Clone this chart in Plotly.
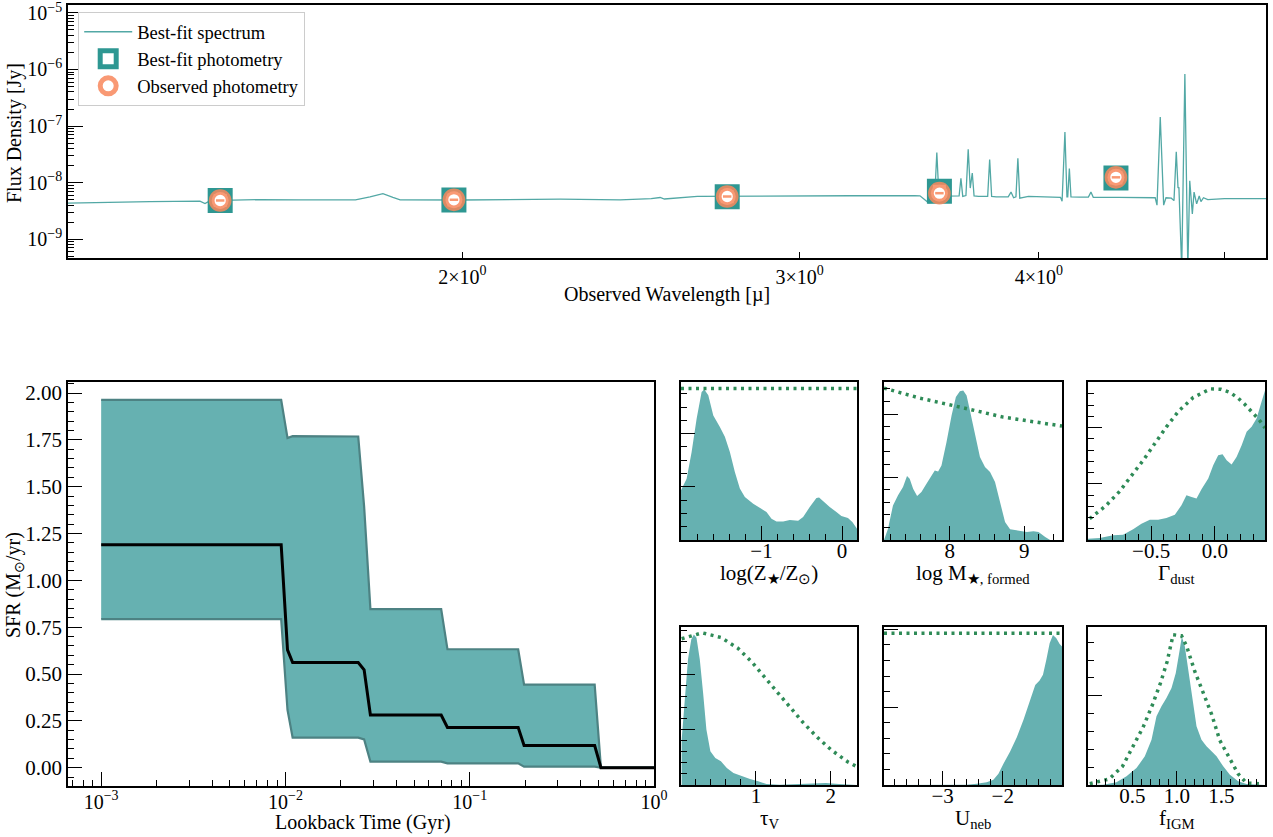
import plotly.graph_objects as go

FONT = "Liberation Serif"
W, H = 1273, 837

# ---------------- top panel: spectrum + photometry ----------------
spec_wave = [1.245, 1.279, 1.374, 1.459, 1.468, 1.477, 1.569, 1.646, 1.759, 1.79, 1.818, 1.84, 1.856,
             2.0, 2.145, 2.25, 2.418, 2.51, 2.537, 2.55, 2.653, 2.861, 3.187, 3.445, 3.467, 3.503,
             3.528, 3.538, 3.547, 3.56, 3.60, 3.634, 3.642, 3.650, 3.664, 3.674, 3.683, 3.692, 3.700,
             3.72, 3.761, 3.770, 3.779, 3.80, 3.855, 3.868, 3.88, 3.891, 3.900, 3.909, 3.95, 4.05,
             4.105, 4.113, 4.127, 4.137, 4.141, 4.149, 4.157, 4.2, 4.245, 4.258, 4.27, 4.40, 4.55,
             4.60, 4.61, 4.628, 4.647, 4.66, 4.69, 4.705, 4.718, 4.728, 4.733, 4.749, 4.767, 4.784,
             4.795, 4.81, 4.82, 4.835, 4.85, 4.86, 4.875, 4.90, 5.0, 5.255]
spec_flux = [4.35e-9, 4.45e-9, 4.6e-9, 4.7e-9, 4.25e-9, 4.8e-9, 5.0e-9, 4.95e-9, 4.97e-9, 5.6e-9, 6.4e-9, 5.5e-9, 4.97e-9,
             4.93e-9, 5.0e-9, 5.1e-9, 4.97e-9, 5.2e-9, 5.45e-9, 5.13e-9, 5.7e-9, 5.7e-9, 5.85e-9, 5.9e-9, 5.85e-9, 4.4e-9,
             4.45e-9, 3.4e-8, 5.7e-9, 5.75e-9, 5.8e-9, 5.8e-9, 1.19e-8, 5.7e-9, 5.9e-9, 3.9e-8, 8e-9, 1.48e-8, 5.8e-9,
             5.7e-9, 5.7e-9, 2.57e-8, 5.7e-9, 5.6e-9, 5.6e-9, 6.8e-9, 5.4e-9, 5.6e-9, 2.7e-8, 5.3e-9, 5.7e-9, 5.6e-9,
             5.5e-9, 4.7e-9, 7.85e-8, 5.6e-9, 5.6e-9, 1.78e-8, 5.6e-9, 5.55e-9, 5.55e-9, 6.8e-9, 5.5e-9, 5.5e-9, 5.4e-9,
             5.4e-9, 4.0e-9, 1.45e-7, 4.0e-9, 5.4e-9, 5.3e-9, 4.8e-9, 3.5e-8, 8e-9, 8.3e-9, 3e-10, 8.3e-7, 3e-10,
             1.08e-8, 2.8e-9, 6.8e-9, 4.2e-9, 5.8e-9, 4.6e-9, 5.4e-9, 5.0e-9, 5.2e-9, 5.2e-9]
phot_wave = [1.495, 1.98, 2.75, 3.549, 4.388]
phot_model = [4.83e-9, 4.95e-9, 5.6e-9, 7.05e-9, 1.21e-8]
phot_obs = [4.83e-9, 4.97e-9, 5.68e-9, 6.5e-9, 1.24e-8]

# ---------------- star formation history ----------------
sfr_age = [0.001, 0.00948, 0.01026, 0.01094, 0.02483, 0.02673, 0.02891, 0.0700, 0.0757,
           0.1832, 0.1972, 0.4764, 0.5152, 1.0]
sfr_upper = [1.964, 1.964, 1.760, 1.770, 1.768, 1.394, 0.846, 0.846, 0.632, 0.632, 0.443, 0.443, 0.0, 0.0]
sfr_median = [1.19, 1.19, 0.629, 0.561, 0.561, 0.522, 0.281, 0.281, 0.215, 0.215, 0.118, 0.118, 0.0, 0.0]
sfr_lower = [0.793, 0.793, 0.308, 0.160, 0.160, 0.151, 0.032, 0.032, 0.023, 0.023, 0.005, 0.005, 0.0, 0.0]

# ---------------- posteriors / priors ----------------
zmet_x = [-2.0, -1.93, -1.868, -1.806, -1.744, -1.711, -1.661, -1.599, -1.517, -1.455, -1.393, -1.331,
          -1.269, -1.207, -1.103, -1.0, -0.938, -0.876, -0.814, -0.731, -0.649, -0.545, -0.483, -0.401,
          -0.318, -0.285, -0.236, -0.153, -0.070, -0.008, 0.074, 0.128, 0.186]
zmet_pdf = [0.934, 1.15, 1.655, 2.28, 2.78, 2.83, 2.72, 2.34, 2.125, 1.94, 1.655, 1.28,
            0.966, 0.81, 0.683, 0.59, 0.527, 0.40, 0.35, 0.35, 0.376, 0.364, 0.433, 0.62,
            0.79, 0.80, 0.727, 0.62, 0.527, 0.451, 0.414, 0.339, 0.213]
zmet_prior_x = [-2.0, 0.186]
zmet_prior = [2.85, 2.85]

mass_x = [7.113, 7.167, 7.234, 7.302, 7.369, 7.423, 7.459, 7.505, 7.559, 7.617, 7.685, 7.752, 7.797,
          7.842, 7.887, 7.955, 8.023, 8.081, 8.135, 8.18, 8.225, 8.27, 8.338, 8.405, 8.473, 8.541,
          8.608, 8.676, 8.743, 8.811, 8.901, 9.036, 9.126, 9.194, 9.284, 9.35, 9.51]
mass_pdf = [0.0, 0.18, 0.55, 0.71, 0.84, 1.016, 0.974, 0.815, 0.70, 0.762, 0.894, 1.026, 1.106,
            1.09, 1.185, 1.556, 1.979, 2.27, 2.365, 2.376, 2.296, 2.058, 1.66, 1.317, 1.159, 1.079,
            0.92, 0.603, 0.286, 0.169, 0.148, 0.127, 0.138, 0.127, 0.048, 0.0, 0.0]
mass_prior_x = [7.113, 7.595, 8.18, 8.72, 9.51]
mass_prior = [2.413, 2.254, 2.10, 1.952, 1.81]

gdust_x = [-0.995, -0.903, -0.798, -0.72, -0.641, -0.576, -0.51, -0.445, -0.38, -0.314, -0.262,
           -0.223, -0.183, -0.144, -0.105, -0.052, -0.013, 0.026, 0.06, 0.092, 0.131, 0.17, 0.21,
           0.249, 0.288, 0.327, 0.366, 0.393]
gdust_pdf = [0.024, 0.036, 0.083, 0.095, 0.19, 0.29, 0.362, 0.362, 0.39, 0.451, 0.617,
             0.795, 0.766, 0.736, 0.902, 1.092, 1.33, 1.507, 1.525, 1.418, 1.341, 1.478, 1.685,
             1.923, 2.012, 2.16, 2.457, 2.66]
gdust_prior_x = [-0.982, -0.859, -0.751, -0.652, -0.560, -0.471, -0.380, -0.285, -0.170, -0.034,
                 0.045, 0.120, 0.183, 0.236, 0.296, 0.346, 0.393]
gdust_prior = [0.38, 0.60, 0.855, 1.139, 1.424, 1.715, 2.012, 2.291, 2.534, 2.688,
               2.682, 2.623, 2.522, 2.409, 2.273, 2.142, 1.994]

tauv_x = [0.009, 0.048, 0.093, 0.137, 0.172, 0.207, 0.251, 0.295, 0.339, 0.392, 0.458, 0.533, 0.612,
          0.70, 0.81, 0.921, 1.031, 1.141, 1.317, 1.537, 1.758, 1.934, 2.11, 2.35]
tauv_pdf = [0.82, 1.486, 2.27, 2.634, 2.725, 2.665, 2.27, 1.668, 1.003, 0.61, 0.489, 0.429, 0.308,
            0.218, 0.157, 0.109, 0.066, 0.018, 0.006, 0.018, 0.024, 0.036, 0.018, 0.0]
tauv_prior_x = [0.009, 0.282, 0.533, 0.758, 0.943, 1.119, 1.295, 1.458, 1.634, 1.824, 2.013, 2.229, 2.35]
tauv_prior = [2.647, 2.755, 2.671, 2.477, 2.230, 1.952, 1.674, 1.396, 1.124, 0.858, 0.628, 0.417, 0.33]

uneb_x = [-3.972, -2.6, -2.433, -2.267, -2.156, -2.072, -1.989, -1.878, -1.767, -1.656, -1.544,
          -1.461, -1.389, -1.333, -1.278, -1.222, -1.167, -1.111, -1.056, -1.017]
uneb_pdf = [0.0, 0.004, 0.017, 0.034, 0.068, 0.145, 0.274, 0.432, 0.615, 0.838, 1.094,
            1.286, 1.342, 1.415, 1.607, 1.82, 1.927, 1.885, 1.812, 1.778]
uneb_prior_x = [-3.972, -1.017]
uneb_prior = [1.949, 1.949]

figm_x = [0.001, 0.17, 0.32, 0.433, 0.545, 0.639, 0.714, 0.77, 0.826, 0.882, 0.939, 0.987, 1.025,
          1.055, 1.089, 1.126, 1.175, 1.22, 1.276, 1.332, 1.389, 1.445, 1.52, 1.595, 1.689, 1.782, 1.99]
figm_pdf = [0.0, 0.004, 0.03, 0.097, 0.19, 0.321, 0.507, 0.769, 0.881, 0.974, 1.086, 1.254, 1.478,
            1.664, 1.552, 1.291, 0.918, 0.657, 0.507, 0.433, 0.377, 0.321, 0.209, 0.116, 0.041, 0.011, 0.0]
figm_prior_x = [0.02, 0.238, 0.388, 0.508, 0.62, 0.725, 0.815, 0.89, 0.957, 1.051, 1.107, 1.201,
                1.295, 1.389, 1.482, 1.595, 1.689, 1.782, 1.97]
figm_prior = [0.015, 0.067, 0.209, 0.433, 0.649, 0.899, 1.142, 1.384, 1.683, 1.672, 1.56, 1.272,
              1.037, 0.795, 0.5, 0.284, 0.123, 0.022, 0.011]

# ---------------- styles ----------------
SPEC_COLOR = "#52a8a5"
SQUARE_COLOR = "#2e9792"
ORANGE = "rgba(248,135,92,0.85)"
FILL = "#66b1b1"
EDGE = "#4d8283"
PRIOR = "#2e8b57"


def hdom(a, b):
    return [a / W, b / W]


def vdom(top, bottom):
    return [1 - bottom / H, 1 - top / H]


def base_axis(fs):
    return dict(showline=True, linecolor="black", linewidth=1.5, mirror=True, automargin=False,
                ticks="inside", tickcolor="black", tickwidth=1.3, showgrid=False,
                zeroline=False, ticklabeloverflow="allow",
                tickfont=dict(family=FONT, size=fs, color="black"))


def sup(n):
    return "10<sup>" + ("−" + str(-n) if n < 0 else str(n)) + "</sup>"


annotations = []


def add_title(text, xc, yc, size=20, angle=0):
    annotations.append(dict(text=text, x=xc / W, y=1 - yc / H, xref="paper", yref="paper",
                            xanchor="center", yanchor="middle", showarrow=False, textangle=angle,
                            font=dict(family=FONT, size=size, color="black")))


fig = go.Figure()

# spectrum panel
fig.add_trace(go.Scatter(x=spec_wave, y=spec_flux, mode="lines", name="Best-fit spectrum",
                         line=dict(color=SPEC_COLOR, width=1.3), xaxis="x", yaxis="y"))
fig.add_trace(go.Scatter(x=phot_wave, y=phot_model, mode="markers", name="Best-fit photometry",
                         marker=dict(symbol="square", size=19, color="white",
                                     line=dict(color=SQUARE_COLOR, width=6)), xaxis="x", yaxis="y"))
fig.add_trace(go.Scatter(x=phot_wave, y=phot_obs, mode="markers", name="Observed photometry",
                         marker=dict(symbol="circle", size=17, color="white",
                                     line=dict(color=ORANGE, width=5.7)), xaxis="x", yaxis="y"))
fig.add_trace(go.Scatter(x=phot_wave, y=phot_obs, mode="markers", showlegend=False,
                         marker=dict(symbol="line-ew", size=6, line=dict(color=ORANGE, width=2.5)),
                         xaxis="x", yaxis="y"))

# SFH panel
fig.add_trace(go.Scatter(x=sfr_age, y=sfr_lower, mode="lines", showlegend=False,
                         line=dict(color=EDGE, width=2.2), xaxis="x2", yaxis="y2"))
fig.add_trace(go.Scatter(x=sfr_age, y=sfr_upper, mode="lines", showlegend=False, fill="tonexty",
                         fillcolor=FILL, line=dict(color=EDGE, width=2.2), xaxis="x2", yaxis="y2"))
fig.add_trace(go.Scatter(x=sfr_age, y=sfr_median, mode="lines", showlegend=False,
                         line=dict(color="black", width=3), xaxis="x2", yaxis="y2"))

layout = dict(width=W, height=H, autosize=False, margin=dict(l=0, r=0, t=0, b=0, autoexpand=False),
              paper_bgcolor="white", plot_bgcolor="white",
              font=dict(family=FONT, color="black"))

# top axes
ax = base_axis(20)
ax.update(type="log", domain=hdom(68, 1266), range=[0.0952, 0.7206], anchor="y",
          tickvals=[2, 3, 4, 5], ticktext=["2×10<sup>0</sup>", "3×10<sup>0</sup>", "4×10<sup>0</sup>", ""],
          ticklen=6)
layout["xaxis"] = ax
add_title("Observed Wavelength [µ]", 667, 294)
ay = base_axis(20)
ay.update(type="log", domain=vdom(5, 258), range=[-9.333, -4.86], anchor="x",
          tickvals=[10.0 ** n for n in range(-9, -4)], ticktext=[sup(n) for n in range(-9, -4)],
          ticklen=15,
          minor=dict(ticks="inside", ticklen=6, tickcolor="black", tickmode="array",
                     tickvals=[k * 10.0 ** n for n in range(-10, -4) for k in range(2, 10)]))
layout["yaxis"] = ay
add_title("Flux Density [Jy]", 15, 133, angle=-90)

# SFH axes
ax2 = base_axis(20)
ax2.update(type="log", domain=hdom(68, 654), range=[-3.18, 0.0], anchor="y2",
           tickvals=[10.0 ** n for n in range(-3, 1)], ticktext=[sup(n) for n in range(-3, 1)],
           ticklen=14, ticklabelstandoff=-3,
           minor=dict(ticks="inside", ticklen=6, tickcolor="black", tickmode="array",
                      tickvals=[k * 10.0 ** n for n in range(-4, 0) for k in range(2, 10)]))
layout["xaxis2"] = ax2
add_title("Lookback Time (Gyr)", 363, 822)
ay2 = base_axis(21)
ay2.update(domain=vdom(382, 786), range=[-0.098, 2.059], anchor="x2",
           tickvals=[0.25 * i for i in range(9)], tickformat=".2f", ticklen=14,
           minor=dict(ticks="inside", ticklen=6, tickcolor="black", dtick=0.05, tick0=0))
layout["yaxis2"] = ay2
add_title("SFR (M<sub>⊙</sub>/yr)", 14, 585, angle=-90)

panels = [
    (zmet_x, zmet_pdf, zmet_prior_x, zmet_prior, [-2.0, 0.186], [0, 2.97], [-1, 0], ["−1", "0"], 0.2, 0.25,
     "log(Z<sub>★</sub>/Z<sub>⊙</sub>)", (681, 857, 382, 540)),
    (mass_x, mass_pdf, mass_prior_x, mass_prior, [7.113, 9.51], [0, 2.51], [8, 9], ["8", "9"], 0.2, 0.2,
     "log M<sub>★, formed</sub>", (884, 1062, 382, 540)),
    (gdust_x, gdust_pdf, gdust_prior_x, gdust_prior, [-0.995, 0.393], [0, 2.81], [-0.5, 0.0], ["−0.5", "0.0"], 0.1, 0.2,
     "Γ<sub>dust</sub>", (1088, 1265, 382, 540)),
    (tauv_x, tauv_pdf, tauv_prior_x, tauv_prior, [0.0, 2.35], [0, 2.86], [1, 2], ["1", "2"], 0.2, 0.2,
     "τ<sub>V</sub>", (681, 857, 627, 785)),
    (uneb_x, uneb_pdf, uneb_prior_x, uneb_prior, [-3.972, -1.017], [0, 2.03], [-3, -2], ["−3", "−2"], 0.2, 0.2,
     "U<sub>neb</sub>", (884, 1062, 627, 785)),
    (figm_x, figm_pdf, figm_prior_x, figm_prior, [0.0, 1.99], [0, 1.77], [0.5, 1.0, 1.5], ["0.5", "1.0", "1.5"], 0.1, 0.2,
     "f<sub>IGM</sub>", (1088, 1265, 627, 785)),
]

for i, (px, py, prx, pry, xr, yr, tv, tt, xminor, yminor, title, dom) in enumerate(panels):
    n = i + 3
    xa, ya = "x%d" % n, "y%d" % n
    fig.add_trace(go.Scatter(x=px, y=py, mode="lines", fill="tozeroy", fillcolor=FILL,
                             line=dict(width=0, color=FILL), showlegend=False, xaxis=xa, yaxis=ya))
    fig.add_trace(go.Scatter(x=prx, y=pry, mode="lines", showlegend=False,
                             line=dict(color=PRIOR, width=3.5, dash="3px,4.5px"), xaxis=xa, yaxis=ya))
    axn = base_axis(21)
    axn.update(domain=hdom(dom[0], dom[1]), range=xr, anchor=ya, tickvals=tv, ticktext=tt, ticklen=14,
               ticklabelstandoff=-9,
               minor=dict(ticks="inside", ticklen=6, tickcolor="black", dtick=xminor, tick0=0))
    ayn = base_axis(21)
    ayn.update(domain=vdom(dom[2], dom[3]), range=yr, anchor=xa, tickvals=[1, 2], showticklabels=False,
               ticklen=14,
               minor=dict(ticks="inside", ticklen=6, tickcolor="black", dtick=yminor, tick0=0))
    layout["xaxis%d" % n] = axn
    layout["yaxis%d" % n] = ayn
    add_title(title, (dom[0] + dom[1]) / 2, dom[3] + 34, size=21)

layout["legend"] = dict(x=78 / W, y=1 - 12 / H, xanchor="left", yanchor="top",
                        bgcolor="white", bordercolor="#cccccc", borderwidth=1.2,
                        font=dict(family=FONT, size=18.5, color="black"), itemwidth=48,
                        traceorder="normal", tracegroupgap=0)
layout["annotations"] = annotations

fig.update_layout(**layout)
fig.write_html("out.html", config={"displayModeBar": False, "responsive": False},
               post_script="document.body.style.margin='0px';document.body.style.overflow='hidden';")
